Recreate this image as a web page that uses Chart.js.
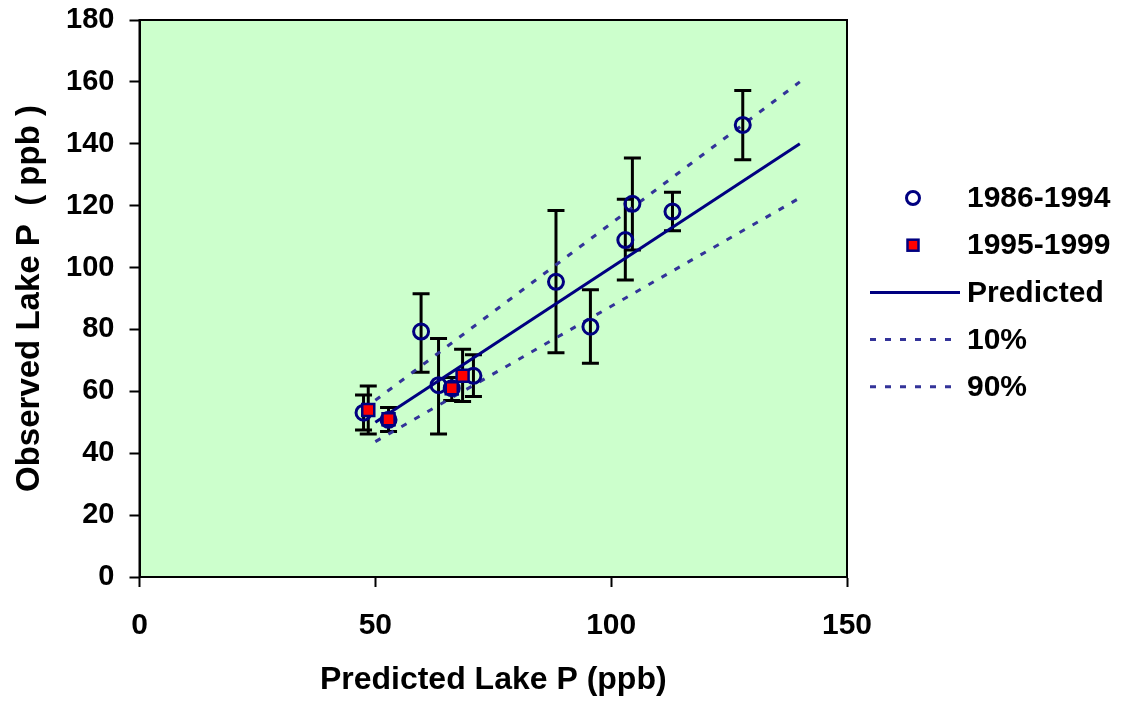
<!DOCTYPE html>
<html>
<head>
<meta charset="utf-8">
<script src="https://cdn.jsdelivr.net/npm/chart.js@4/dist/chart.umd.min.js"></script>
<style>
  body { margin: 0; background: #fff; }
  canvas { display: block; }
</style>
</head>
<body>
<canvas id="chart" width="1123" height="703"></canvas>
<script>
// 1986-1994 observations (predicted, observed, error bar low/high)
const obsX = [47.5, 52.8, 59.7, 63.4, 66.2, 70.8, 88.3, 95.6, 103.0, 104.5, 113.0, 127.9];
const obsY = [53.1, 50.8, 79.3, 62.0, 61.0, 65.0, 95.4, 80.9, 108.9, 120.6, 118.1, 146.1];
const obsLow = [47.5, 47.0, 66.2, 46.2, 57.0, 58.3, 72.5, 69.1, 96.0, 105.7, 111.9, 134.8];
const obsHigh = [58.8, 54.8, 91.5, 77.1, 64.5, 71.8, 118.4, 92.8, 122.1, 135.4, 124.3, 157.2];

// 1995-1999 observations
const newX = [48.5, 52.8, 66.2, 68.5];
const newY = [54.0, 51.0, 61.0, 65.0];
const newLow = [46.2, null, null, 56.7];
const newHigh = [61.7, null, null, 73.6];

// model lines
const lineX = [50, 140];
const predictedY = [50, 140];
const p10Y = [43.75, 122.5];
const p90Y = [57.1, 160];

const FONT = "'Liberation Sans', Arial, sans-serif";
const NAVY = "#000080";
const DASH = "#333399";

const toPts = (xs, ys) => xs.map((x, i) => ({ x: x, y: ys[i] }));

const plotBg = {
  id: "plotBg",
  beforeDraw(chart) {
    const { ctx, chartArea: a } = chart;
    ctx.save();
    ctx.fillStyle = "#fff";
    ctx.fillRect(0, 0, chart.width, chart.height);
    ctx.fillStyle = "#CCFFCC";
    ctx.fillRect(a.left, a.top, a.right - a.left, a.bottom - a.top);
    ctx.restore();
  },
  beforeDatasetsDraw(chart) {
    const { ctx, chartArea: a, scales } = chart;
    ctx.save();
    ctx.strokeStyle = "#000";
    ctx.lineWidth = 2;
    ctx.strokeRect(a.left, a.top, a.right - a.left, a.bottom - a.top);

    // error bars
    ctx.lineWidth = 3;
    const cap = 8.5;
    const drawBars = (xs, lows, highs) => {
      xs.forEach((x, i) => {
        if (lows[i] == null) return;
        const px = scales.x.getPixelForValue(x);
        const y1 = scales.y.getPixelForValue(lows[i]);
        const y2 = scales.y.getPixelForValue(highs[i]);
        ctx.beginPath();
        ctx.moveTo(px, y1); ctx.lineTo(px, y2);
        ctx.moveTo(px - cap, y1); ctx.lineTo(px + cap, y1);
        ctx.moveTo(px - cap, y2); ctx.lineTo(px + cap, y2);
        ctx.stroke();
      });
    };
    drawBars(obsX, obsLow, obsHigh);
    drawBars(newX, newLow, newHigh);
    ctx.restore();
  }
};

const sideLegend = {
  id: "sideLegend",
  afterDraw(chart) {
    const ctx = chart.ctx;
    const order = [1, 0, 2, 3, 4];
    const x0 = 870, x1 = 960, textX = 967, top = 198, step = 47.2;
    ctx.save();
    ctx.font = "bold 30px " + FONT;
    ctx.textBaseline = "middle";
    ctx.textAlign = "left";
    order.forEach((di, row) => {
      const ds = chart.data.datasets[di];
      const y = top + row * step;
      const cx = (x0 + x1) / 2 - 2;
      if (ds.pointStyle === "circle") {
        ctx.beginPath();
        ctx.arc(cx, y, 6.5, 0, Math.PI * 2);
        ctx.strokeStyle = ds.borderColor;
        ctx.lineWidth = 3;
        ctx.stroke();
      } else if (ds.pointStyle === "rect") {
        ctx.fillStyle = ds.backgroundColor;
        ctx.strokeStyle = ds.borderColor;
        ctx.lineWidth = 2.5;
        ctx.fillRect(cx - 5.5, y - 5.5, 11, 11);
        ctx.strokeRect(cx - 5.5, y - 5.5, 11, 11);
      } else {
        ctx.beginPath();
        ctx.setLineDash(ds.borderDash || []);
        ctx.strokeStyle = ds.borderColor;
        ctx.lineWidth = ds.borderWidth;
        ctx.moveTo(x0, y); ctx.lineTo(x1, y);
        ctx.stroke();
        ctx.setLineDash([]);
      }
      ctx.fillStyle = "#000";
      ctx.fillText(ds.label, textX, y + 1);
    });
    ctx.restore();
  }
};

new Chart(document.getElementById("chart"), {
  type: "scatter",
  data: {
    datasets: [
      {
        label: "1995-1999",
        data: toPts(newX, newY),
        pointStyle: "rect",
        pointRadius: 8.5,
        pointHoverRadius: 8.5,
        backgroundColor: "#FF0000",
        borderColor: NAVY,
        borderWidth: 2.5
      },
      {
        label: "1986-1994",
        data: toPts(obsX, obsY),
        pointStyle: "circle",
        pointRadius: 7.5,
        pointHoverRadius: 7.5,
        backgroundColor: "rgba(0,0,0,0)",
        borderColor: NAVY,
        borderWidth: 3
      },
      {
        label: "Predicted",
        data: toPts(lineX, predictedY),
        showLine: true,
        pointRadius: 0,
        borderColor: NAVY,
        borderWidth: 3
      },
      {
        label: "10%",
        data: toPts(lineX, p10Y),
        showLine: true,
        pointRadius: 0,
        borderColor: DASH,
        borderWidth: 3,
        borderDash: [6, 9]
      },
      {
        label: "90%",
        data: toPts(lineX, p90Y),
        showLine: true,
        pointRadius: 0,
        borderColor: DASH,
        borderWidth: 3,
        borderDash: [6, 9]
      }
    ]
  },
  options: {
    responsive: false,
    animation: false,
    layout: { padding: { top: 20, right: 276, bottom: 0, left: 0 } },
    plugins: {
      legend: { display: false },
      tooltip: { enabled: false }
    },
    scales: {
      x: {
        type: "linear",
        min: 0,
        max: 150,
        afterFit: (s) => { s.height = 126; s.paddingLeft = 0; s.paddingRight = 0; },
        ticks: {
          stepSize: 50,
          color: "#000",
          padding: 21,
          font: { family: FONT, size: 30, weight: "bold" }
        },
        grid: {
          drawOnChartArea: false,
          drawTicks: true,
          tickLength: 10,
          tickWidth: 2,
          tickColor: "#000"
        },
        border: { display: true, color: "#000", width: 2 },
        title: {
          display: true,
          text: "Predicted Lake P (ppb)",
          color: "#000",
          padding: { top: 4, bottom: 4 },
          font: { family: FONT, size: 32, weight: "bold" }
        }
      },
      y: {
        type: "linear",
        min: 0,
        max: 180,
        afterFit: (s) => { s.width = 139.5; s.paddingTop = 0; s.paddingBottom = 0; },
        ticks: {
          stepSize: 20,
          color: "#000",
          padding: 15,
          font: { family: FONT, size: 29, weight: "bold" }
        },
        grid: {
          drawOnChartArea: false,
          drawTicks: true,
          tickLength: 10,
          tickWidth: 2,
          tickColor: "#000"
        },
        border: { display: true, color: "#000", width: 2 },
        title: {
          display: true,
          text: "Observed Lake P  ( ppb )",
          color: "#000",
          padding: { top: 10, bottom: 4 },
          font: { family: FONT, size: 33, weight: "bold" }
        }
      }
    }
  },
  plugins: [plotBg, sideLegend]
});
</script>
</body>
</html>
